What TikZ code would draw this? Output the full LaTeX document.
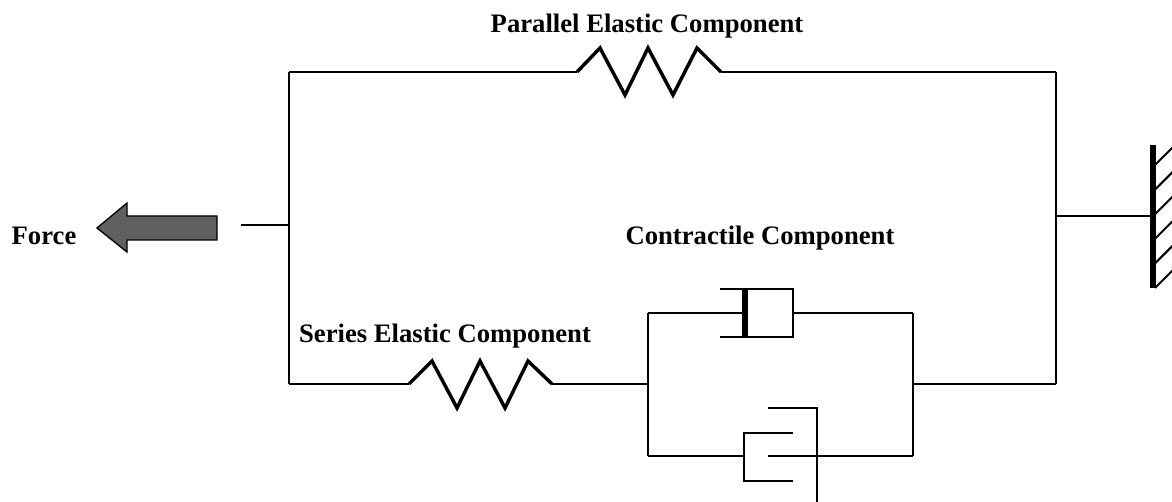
\documentclass[tikz,border=0pt]{standalone}
\usepackage{fontspec}
\setmainfont{Liberation Serif}
\definecolor{arrowgray}{RGB}{96,96,96}
\begin{document}
\begin{tikzpicture}[x=0.75pt,y=-0.75pt,
  wire/.style={black, line width=1.5pt},
  spring/.style={black, line width=2.6pt, line join=miter},
  label/.style={font=\bfseries\fontsize{20}{22}\selectfont, anchor=base, inner sep=0pt}]

\useasboundingbox (0,0) rectangle (1172,502);

\coordinate (tl) at (289,72);
\coordinate (tr) at (1056,72);
\coordinate (bl) at (289,384);
\coordinate (br) at (1056,384);
\coordinate (lin) at (241,225);
\coordinate (lmid) at (289,225);
\coordinate (rmid) at (1056,216);
\coordinate (wall) at (1153,216);

% outer frame
\draw [wire] (lin) -- (lmid);
\draw [wire] (tl) -- (bl);
\draw [wire] (tr) -- (br);
\draw [wire] (rmid) -- (wall);

% parallel elastic component
\coordinate (pin) at (577,72);
\coordinate (pout) at (721,72);
\draw [wire] (tl) -- (pin);
\draw [wire] (pout) -- (tr);
\draw [spring] (pin) -- ++(23,-24) -- ++(25,47) -- ++(23,-47) -- ++(25,47) -- ++(24,-47) -- (pout);
\node [label] (parallel) at (647,33) {Parallel Elastic Component};

% series elastic component
\coordinate (sin) at (409,384);
\coordinate (sout) at (552,384);
\draw [wire] (bl) -- (sin);
\draw [spring] (sin) -- ++(23,-23) -- ++(25,47) -- ++(23,-47) -- ++(25,47) -- ++(23,-47) -- (sout);
\node [label] (series) at (445,343) {Series Elastic Component};

% contractile component
\coordinate (cl) at (648,384);
\coordinate (cr) at (913,384);
\draw [wire] (sout) -- (cl);
\draw [wire] (cr) -- (br);
\draw [wire] (648,313) -- (648,456);
\draw [wire] (913,313) -- (913,456);
\draw [wire] (648,313) -- (742,313);
\draw [wire] (720,289) -- (793,289) -- (793,337) -- (720,337);
\draw [black, line width=5pt] (745,289) -- (745,337);
\draw [wire] (793,313) -- (913,313);
\draw [wire] (648,456) -- (744,456);
\draw [wire] (793,433) -- (744,433) -- (744,481) -- (793,481);
\draw [wire] (768,456) -- (913,456);
\draw [wire] (768,408) -- (817,408) -- (817,502);
\node [label] (contractile) at (760,245) {Contractile Component};

% force arrow
\draw [black, line width=1pt, fill=arrowgray] (97,228) -- (127,203) -- (127,216) -- (217,216)
  -- (217,240) -- (127,240) -- (127,252) -- cycle;
\node [label] (force) at (44,245) {Force};

% wall
\draw [black, line width=5pt] (1153,145) -- (1153,288);
\begin{scope}
\clip (1150,130) rectangle (1172,300);
\foreach \i in {0,...,5}
  \draw [wire] (1155,165+24.6*\i) -- ++(22,-22);
\end{scope}

\end{tikzpicture}
\end{document}
